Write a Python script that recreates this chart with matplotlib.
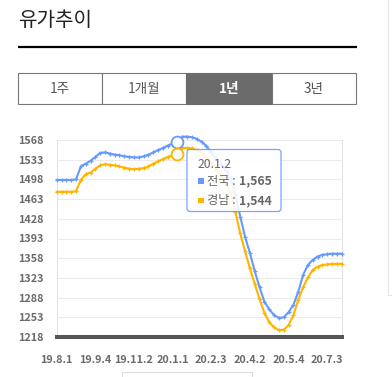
import matplotlib
matplotlib.use("Agg")
import matplotlib.pyplot as plt
from matplotlib.patches import Rectangle, FancyBboxPatch
import numpy as np

plt.rcParams['font.family'] = ['Noto Sans CJK KR', 'DejaVu Sans']

# ---------------- data ----------------
title = "유가추이"
tabs = ["1주", "1개월", "1년", "3년"]
active_tab = 2
series_names = ["전국", "경남"]
tick_labels = ["19.8.1", "19.9.4", "19.11.2", "20.1.1", "20.2.3", "20.4.2", "20.5.4", "20.7.3"]
tick_step = 8
y_ticks = [1218, 1253, 1288, 1323, 1358, 1393, 1428, 1463, 1498, 1533, 1568]

jeonguk = [1497, 1497, 1497, 1497, 1498, 1521, 1526, 1531, 1538, 1545,
           1546, 1544, 1542, 1541, 1539, 1538, 1537, 1537, 1539, 1542,
           1546, 1550, 1554, 1558, 1562, 1565, 1574, 1574, 1573, 1570,
           1565, 1557, 1546, 1535, 1525, 1515, 1500, 1470, 1432, 1396,
           1367, 1335, 1306, 1281, 1267, 1257, 1252, 1253, 1262, 1275,
           1298, 1328, 1346, 1355, 1361, 1364, 1365, 1366, 1366, 1366]
gyeongnam = [1476, 1476, 1476, 1476, 1477, 1497, 1507, 1510, 1517, 1523,
             1525, 1524, 1523, 1521, 1519, 1517, 1516, 1517, 1518, 1521,
             1526, 1530, 1534, 1538, 1541, 1544, 1554, 1554, 1553, 1550,
             1545, 1537, 1527, 1516, 1504, 1490, 1475, 1440, 1402, 1370,
             1340, 1312, 1285, 1261, 1244, 1235, 1230, 1231, 1239, 1257,
             1284, 1306, 1324, 1337, 1343, 1346, 1347, 1348, 1348, 1348]
hover_index = 25
hover_label = "20.1.2"

colors = ["#6699ff", "#ffb400"]

# ---------------- figure ----------------
W, H = 392, 377
fig = plt.figure(figsize=(W / 100, H / 100), dpi=100)
fig.patch.set_facecolor("white")

def fx(x):
    return x / W

def fy(y):
    return 1 - y / H

L, R, T, B = 56.7, 341.7, 140, 337
ax = fig.add_axes([fx(L), fy(B), fx(R) - fx(L), fy(T) - fy(B)])
ax.set_facecolor("white")

x = np.arange(len(jeonguk))
ax.set_xlim(0, len(jeonguk) - 1)
ax.set_ylim(y_ticks[0], y_ticks[-1])
ax.set_yticks(y_ticks)
ax.set_yticklabels([str(v) for v in y_ticks])
ticks = list(range(0, len(jeonguk), tick_step))[:len(tick_labels)]
ax.set_xticks(ticks)
ax.set_xticklabels(tick_labels)
ax.tick_params(length=0, labelsize=7.8, labelcolor="#6a6a6a")
ax.tick_params(axis="y", pad=9.6)
ax.tick_params(axis="x", pad=13)
for lab in ax.get_xticklabels() + ax.get_yticklabels():
    lab.set_fontweight("bold")

ax.grid(axis="y", color="#ebebeb", linewidth=0.8)
ax.set_axisbelow(True)
for s in ["top", "bottom"]:
    ax.spines[s].set_visible(False)
for s in ["left", "right"]:
    ax.spines[s].set_color("#e2e2e2")
    ax.spines[s].set_linewidth(0.8)
ax.axhline(y_ticks[0], color="#555555", linewidth=2.9, zorder=5, clip_on=False)

for vals, c in zip([jeonguk, gyeongnam], colors):
    ax.plot(x, vals, color=c, linewidth=1.5, marker="+", markersize=3.5,
            markeredgewidth=0.9, clip_on=False, zorder=3)
    ax.plot([hover_index], [vals[hover_index]], marker="o", markersize=8.5,
            markerfacecolor="white", markeredgecolor=c, markeredgewidth=1.3,
            linestyle="none", clip_on=False, zorder=4)

# ---------------- overlay ----------------
ov = fig.add_axes([0, 0, 1, 1])
ov.set_xlim(0, W)
ov.set_ylim(H, 0)
ov.axis("off")
ov.patch.set_alpha(0)

ov.text(18, 21, title, fontsize=14.5, color="#222222", va="center", ha="left",
        fontweight="medium")
ov.plot([18, 357], [46.5, 46.5], color="black", linewidth=1.6, solid_capstyle="butt")

edges = [18, 102.3, 186, 271.7, 355.7]
ty0, ty1 = 73, 104
for i, t in enumerate(tabs):
    if i == active_tab:
        ov.add_patch(Rectangle((edges[i], ty0), edges[i + 1] - edges[i], ty1 - ty0,
                               facecolor="#6b6b6b", edgecolor="#6b6b6b", linewidth=0.8))
        ov.text((edges[i] + edges[i + 1]) / 2, (ty0 + ty1) / 2 + 0.5, t, ha="center",
                va="center", fontsize=9.8, color="white", fontweight="bold")
    else:
        ov.add_patch(Rectangle((edges[i], ty0), edges[i + 1] - edges[i], ty1 - ty0,
                               facecolor="white", edgecolor="#777777", linewidth=0.8))
        ov.text((edges[i] + edges[i + 1]) / 2, (ty0 + ty1) / 2 + 0.5, t, ha="center",
                va="center", fontsize=9.8, color="#555555")

# tooltip
ov.add_patch(FancyBboxPatch((187, 149.5), 94, 62, boxstyle="round,pad=0,rounding_size=3",
                            facecolor="white", edgecolor="#6699ff", linewidth=0.9,
                            alpha=0.88, zorder=6))
ov.text(198, 164, hover_label, fontsize=8.8, color="#666666", va="center", ha="left", zorder=7)
fig.canvas.draw()
rend = fig.canvas.get_renderer()
for k, (name, vals, c) in enumerate(zip(series_names, [jeonguk, gyeongnam], colors)):
    yy = 181 + k * 19.5
    ov.add_patch(Rectangle((198.5, yy - 3), 5.5, 5.5, facecolor=c, edgecolor="none", zorder=7))
    t1 = ov.text(207.5, yy, name + " :", fontsize=8.8, color="#666666", va="center",
                 ha="left", zorder=7)
    bb = t1.get_window_extent(renderer=rend)
    xr = bb.x1 + 2.5
    ov.text(xr, H - yy, f"{vals[hover_index]:,}", fontsize=8.8, color="#666666",
            va="center", ha="left", fontweight="bold", zorder=7,
            transform=None)

# bottom legend box (cut off) and page border lines
ov.add_patch(Rectangle((121.7, 372), 130.6, 10, facecolor="white", edgecolor="#dddddd",
                       linewidth=0.8, clip_on=False))
ov.plot([387.7, 387.7], [0, 295], color="#e5e5e5", linewidth=0.8)
ov.plot([387.7, 392], [295, 295], color="#e5e5e5", linewidth=0.8)

fig.savefig("out.png", dpi=100, facecolor="white")
